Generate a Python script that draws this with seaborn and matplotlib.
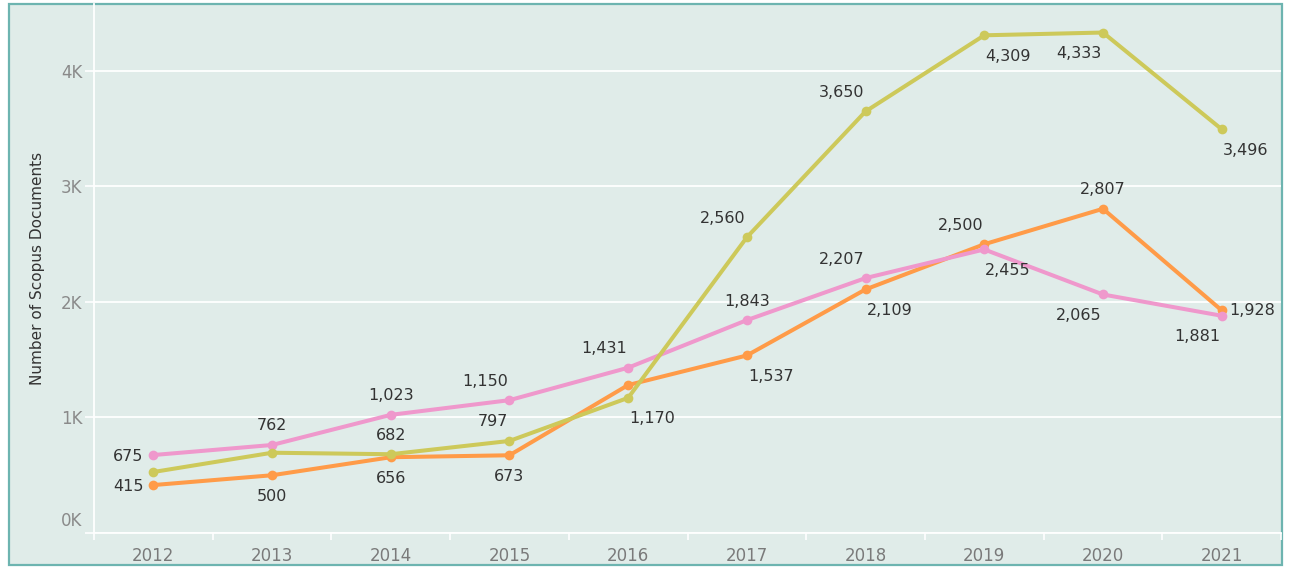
import pandas as pd
import numpy as np
import seaborn as sns
import matplotlib.pyplot as plt
from matplotlib.patches import Rectangle
from matplotlib.ticker import FuncFormatter
from matplotlib.transforms import ScaledTranslation

years = [2012, 2013, 2014, 2015, 2016, 2017, 2018, 2019, 2020, 2021]
series_a = [675, 762, 1023, 1150, 1431, 1843, 2207, 2455, 2065, 1881]   # pink
series_b = [415, 500, 656, 673, 1281, 1537, 2109, 2500, 2807, 1928]    # orange
series_c = [528, 695, 682, 797, 1170, 2560, 3650, 4309, 4333, 3496]    # olive

# where each value label sits relative to its point (None = no label shown)
place_a = ['l', 'a', 'a', 'al', 'al', 'a', 'al', 'br', 'bl', 'bl']
place_b = ['l', 'b', 'b', 'b', None, 'br', 'br', 'al', 'a', 'r']
place_c = [None, None, 'a', 'al', 'br', 'al', 'al', 'br', 'bl', 'br']

names = ['Series A', 'Series B', 'Series C']
colors = {'Series A': '#ef98cc', 'Series B': '#ff9b48', 'Series C': '#cdc95a'}

df = pd.DataFrame({
    'Year': years * 3,
    'Documents': series_a + series_b + series_c,
    'Series': sum([[n] * len(years) for n in names], []),
})

bg = '#e0ece9'
sns.set_theme(style='white')
plt.rcParams['font.family'] = ['DejaVu Sans']

fig = plt.figure(figsize=(12.99, 5.67), dpi=100)
fig.patch.set_facecolor('white')
W, H = 1299, 567
frame = Rectangle((9 / W, 1 - 565 / H), (1282 - 9) / W, (565 - 4) / H,
                  transform=fig.transFigure, facecolor=bg,
                  edgecolor='#6db4b0', linewidth=1.6, zorder=-5)
fig.patches.append(frame)

ax = fig.add_axes([94 / W, 1 - 533 / H, (1281 - 94) / W, (533 - 4) / H])
ax.set_facecolor('none')
ax.set_zorder(2)

# draw order: orange, pink, olive on top
for n in ['Series B', 'Series A', 'Series C']:
    sns.lineplot(data=df[df['Series'] == n], x='Year', y='Documents', color=colors[n],
                 marker='o', markersize=7, markeredgewidth=0, linewidth=2.9,
                 ax=ax, legend=False)

offsets = {
    'a': (0, 19, 'center'), 'b': (0, -21, 'center'),
    'al': (-1, 19, 'right'), 'bl': (-1, -21, 'right'), 'br': (1, -21, 'left'),
    'l': (-10, -1, 'right'), 'r': (8, 0, 'left'),
}
for vals, place in [(series_a, place_a), (series_b, place_b), (series_c, place_c)]:
    for yr, v, p in zip(years, vals, place):
        if p is None:
            continue
        dx, dy, ha = offsets[p]
        ax.annotate(f'{v:,}', (yr, v), xytext=(dx, dy), textcoords='offset pixels',
                    ha=ha, va='center', fontsize=11.5, color='#333333', zorder=5)

ax.set_xlim(2011.5, 2021.5)
ax.set_ylim(0, 4580)
ax.set_xticks(years)
ax.set_xticklabels([str(y) for y in years])
ax.set_xticks([y - 0.5 for y in years] + [2021.5], minor=True)
ax.set_yticks([0, 1000, 2000, 3000, 4000])
ax.yaxis.set_major_formatter(FuncFormatter(lambda v, p: f'{int(v / 1000)}K'))

ax.tick_params(axis='x', which='major', length=0, pad=10, labelsize=12, labelcolor='#7a7a7a')
ax.tick_params(axis='x', which='minor', length=5, width=1.2, color='white', bottom=True)
ax.tick_params(axis='y', which='major', length=6.5, width=1.2, color='white', pad=2,
               labelsize=12, labelcolor='#8a8a8a', left=True)

ax.grid(axis='y', color='white', linewidth=1.3)
ax.grid(axis='x', visible=False)
for side in ['top', 'right']:
    ax.spines[side].set_visible(False)
for side in ['left', 'bottom']:
    ax.spines[side].set_color('white')
    ax.spines[side].set_linewidth(1.3)

# tableau nudges the bottom label up
zero_label = ax.get_yticklabels()[0]
zero_label.set_transform(zero_label.get_transform() + ScaledTranslation(0, 0.14, fig.dpi_scale_trans))

ax.set_ylabel('Number of Scopus Documents', fontsize=11, color='#333333')
ax.set_xlabel('')
ax.yaxis.set_label_coords((45 - 94) / (1281 - 94), 0.5)

fig.savefig('out.png', dpi=100, facecolor=fig.get_facecolor())
